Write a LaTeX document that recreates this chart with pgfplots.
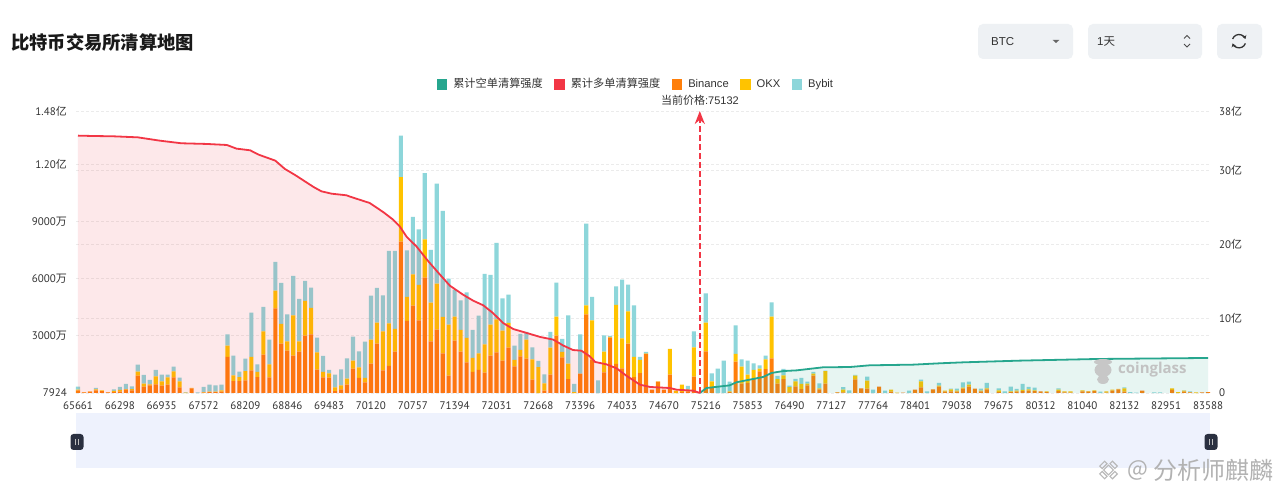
\documentclass[border=0pt]{standalone}
\usepackage{fontspec}
\usepackage{pgfplots}
\usepackage{pgfplotstable}
\pgfplotsset{compat=1.18}
\usetikzlibrary{arrows.meta}
\setmainfont{Liberation Sans}
\newfontfamily\cjk{Noto Sans CJK SC}
\newfontfamily\tickf{PT Sans}
\newfontfamily\cgf{Open Sans}
\definecolor{cBin}{HTML}{FF7F0A}
\definecolor{cOkx}{HTML}{FFC300}
\definecolor{cByb}{HTML}{8DD6DA}
\definecolor{cRed}{HTML}{F23645}
\definecolor{cGrn}{HTML}{26A68E}
\definecolor{cGrid}{HTML}{EBEBEB}
\definecolor{cBox}{HTML}{EEF1F4}
\definecolor{cSlide}{HTML}{EEF2FD}
\definecolor{cHandle}{HTML}{2A3040}
\definecolor{cTxt}{HTML}{333333}
% stacked bars, values in units of 10^4 (wan)
\pgfplotstableread{
i B O Y
0 140 35 158
1 35 18 0
2 70 18 0
3 140 53 70
4 105 35 0
5 35 18 0
6 53 53 88
7 70 88 158
8 175 35 263
9 140 70 140
10 910 210 368
11 333 158 455
12 403 53 228
13 455 420 333
14 385 228 350
15 438 385 140
16 823 315 245
17 298 315 193
18 0 18 35
19 245 18 0
20 0 0 35
21 18 35 263
22 53 18 368
23 53 18 333
24 70 70 298
25 1890 595 595
26 630 298 1033
27 630 210 280
28 665 490 648
29 1190 700 2328
30 840 263 403
31 2013 1225 1278
32 823 683 1295
33 4445 928 1505
34 2590 1033 2153
35 2223 490 1418
36 1960 2118 2065
37 2170 543 2223
38 3010 1820 1050
39 3080 1383 1068
40 1225 910 770
41 823 280 840
42 805 228 175
43 105 193 665
44 193 210 840
45 438 315 1068
46 1278 420 1260
47 788 560 840
48 560 228 1908
49 1540 1260 2310
50 2590 1103 1820
51 1190 2048 1890
52 1418 2240 3798
53 2170 1190 4095
54 7945 3378 2188
55 3780 1260 2450
56 4585 1645 3010
57 3815 1855 2923
58 6055 2013 3465
59 2713 2030 2765
60 3325 2415 5250
61 2083 1908 5565
62 910 2678 2415
63 2748 1260 1418
64 2170 1138 1558
65 1610 1278 2398
66 1103 735 1470
67 1208 875 1978
68 1068 1488 3693
69 1960 1628 2608
70 2135 1733 4008
71 1698 1575 1698
72 2380 1295 1488
73 1400 333 753
74 1925 333 840
75 1803 998 403
76 700 1068 630
77 0 1365 315
78 123 385 473
79 963 1418 823
80 3010 998 1785
81 1873 280 683
82 735 805 2538
83 0 53 420
84 1015 0 2065
85 4130 473 4288
86 1750 2065 1225
87 0 0 665
88 1085 1085 858
89 2905 35 53
90 1523 3098 980
91 1295 1575 3080
92 2590 1698 1400
93 840 1050 2713
94 1050 683 158
95 2048 18 88
96 175 0 0
97 595 18 0
98 175 0 0
99 963 1348 0
100 0 123 0
101 53 385 0
102 88 88 193
103 858 1540 840
104 0 0 0
105 2188 1505 1540
106 263 350 420
107 0 0 1278
108 0 0 1698
109 53 35 508
110 1645 403 1505
111 490 893 385
112 525 438 735
113 735 473 350
114 1138 140 175
115 1260 508 193
116 1820 2188 753
117 490 245 158
118 735 193 333
119 35 280 70
120 350 263 123
121 210 263 315
122 403 88 105
123 910 105 88
124 193 53 263
125 490 665 18
126 0 0 0
127 35 18 0
128 35 140 140
129 0 0 140
130 718 193 35
131 245 0 0
132 228 420 210
133 0 0 175
134 333 0 0
135 0 0 123
136 70 105 0
137 0 18 0
138 18 0 0
139 0 0 123
140 175 0 0
141 298 315 88
142 0 0 88
143 193 0 0
144 333 53 140
145 70 53 0
146 88 105 35
147 70 53 105
148 228 53 280
149 333 105 158
150 228 0 0
151 88 35 105
152 193 53 280
153 0 0 0
154 53 88 105
155 0 0 88
156 53 35 245
157 70 53 88
158 105 53 315
159 123 70 123
160 105 35 140
161 88 0 0
162 53 35 0
163 0 0 0
164 105 70 70
165 35 53 0
166 18 70 0
167 0 0 0
168 88 53 0
169 70 35 0
170 105 35 0
171 0 0 70
172 18 70 0
173 123 53 0
174 193 18 0
175 70 175 53
176 0 0 53
177 0 0 18
178 123 0 0
179 0 0 0
180 0 0 35
181 0 0 35
182 0 0 0
183 158 88 0
184 0 53 0
185 70 53 18
186 35 18 35
187 0 35 0
188 35 0 0
189 53 0 0
}\bars
% cumulative long liquidation, right axis (yi)
\pgfplotstableread{
i v
0 34.68
2.6 34.63
5.9 34.59
10 34.45
13.7 34.0
17.3 33.65
21.5 33.56
24.9 33.42
26.5 32.93
28.8 32.70
30.2 32.12
33 31.31
34.6 30.19
36.3 29.38
39.4 27.76
40.7 27.18
42.4 26.86
44.9 26.64
45.5 26.46
48.8 25.60
51.1 24.35
52.7 23.36
53.8 22.46
55 21.02
56.6 19.76
58.6 17.74
60.3 16.17
62.2 14.46
64.4 13.25
66.1 12.44
67.8 11.81
69.4 10.78
71.1 9.43
72.8 8.62
74.5 8.22
77.3 7.55
79.5 7.19
81.2 6.38
82.8 5.79
84.2 5.70
85.6 4.94
86.5 4.18
88.4 3.86
90.1 3.32
91.7 2.34
94 1.12
95.7 0.81
99 0.67
100.1 0.45
102.9 0.31
104 0
}\longs
% cumulative short liquidation, right axis (yi)
\pgfplotstableread{
i v
104 0
105.1 0.67
109 1.03
110.1 1.44
114.6 2.16
116 2.70
118 2.96
120.2 3.05
124.6 3.46
129.1 3.50
132.4 3.73
139.7 3.82
144.1 4.00
148 4.13
157.5 4.36
170.3 4.58
189 4.72
}\shorts
\begin{document}
\begin{tikzpicture}[x=1pt,y=1pt]
\useasboundingbox (0,0) rectangle (1280,497);
\fill[white] (0,0) rectangle (1280,497);
% title
\node[anchor=west,inner sep=0pt,text=black!90] at (11,454) {\fontsize{18.3}{20}\cjk\bfseries 比特币交易所清算地图};
% controls
\fill[cBox,rounded corners=5pt] (978,438) rectangle (1073,473);
\node[anchor=west,inner sep=0pt,text=cTxt] at (991,455.5) {\fontsize{11.5}{13}\selectfont BTC};
\fill[black!60] (1052.7,457) -- (1059.3,457) -- (1056,454) -- cycle;
\fill[cBox,rounded corners=5pt] (1088,438) rectangle (1202,473);
\node[anchor=west,inner sep=0pt,text=cTxt] at (1097,455.5) {\fontsize{11.5}{13}\selectfont 1{\cjk 天}};
\draw[black!70,line width=.9pt] (1184,458.5) -- (1187,461.5) -- (1190,458.5);
\draw[black!70,line width=.9pt] (1184,453) -- (1187,450) -- (1190,453);
\fill[cBox,rounded corners=5pt] (1217,438) rectangle (1262,473);
\draw[black!80,line width=1.3pt,-{Stealth[length=3.5pt,width=4.5pt]}] (1232.6,458) arc (160:20:6.8);
\draw[black!80,line width=1.3pt,-{Stealth[length=3.5pt,width=4.5pt]}] (1245.4,453.6) arc (340:200:6.8);
% dataZoom
\fill[cSlide] (76,29) rectangle (1210,84);
\foreach \hx in {77,1211}{
  \fill[cHandle,rounded corners=3pt] (\hx-6.5,47) rectangle (\hx+6.5,63);
  \draw[white!75!black,line width=.7pt] (\hx-1.5,52) -- (\hx-1.5,58) (\hx+1.5,52) -- (\hx+1.5,58);
}
% left axis and bars
\begin{axis}[
  at={(76pt,104pt)},anchor=south west,
  width=1134pt,height=282pt,scale only axis,
  ybar stacked,bar width=4.1pt,
  xmin=-0.334,xmax=189.334,ymin=0.7924,ymax=14800,
  axis line style={draw=none},major tick length=0pt,
  scaled y ticks=false,
  xtick={0,7,...,189},
  xticklabels={65661,66298,66935,67572,68209,68846,69483,70120,70757,71394,72031,72668,73396,74033,74670,75216,75853,76490,77127,77764,78401,79038,79675,80312,81040,82132,82951,83588},
  ytick={0.7924,3000,6000,9000,12000,14800},
  yticklabels={7924,3000{\cjk 万},6000{\cjk 万},9000{\cjk 万},1.20{\cjk 亿},1.48{\cjk 亿}},
  extra y ticks={3894.7,7789.5,11684.2},
  extra y tick labels={},
  extra y tick style={grid=major},
  tick label style={font=\fontsize{11}{12}\tickf,text=cTxt,inner sep=0pt},
  xticklabel style={yshift=-13pt,anchor=center},
  yticklabel style={xshift=-9pt,anchor=east},
  ymajorgrids,grid style={cGrid,dash pattern=on 3pt off 2pt,line width=.7pt},
  clip=false,
]
\addplot[fill=cBin,draw=none] table[x=i,y=B]{\bars};
\addplot[fill=cOkx,draw=none] table[x=i,y=O]{\bars};
\addplot[fill=cByb,draw=none] table[x=i,y=Y]{\bars};
\end{axis}
% right axis, cumulative lines and price marker
\begin{axis}[
  at={(76pt,104pt)},anchor=south west,
  width=1134pt,height=282pt,scale only axis,
  xmin=-0.334,xmax=189.334,ymin=0,ymax=38,
  axis x line=none,axis y line*=right,
  axis line style={draw=none},major tick length=0pt,
  ytick={0,10,20,30,38},
  yticklabels={0,10{\cjk 亿},20{\cjk 亿},30{\cjk 亿},38{\cjk 亿}},
  tick label style={font=\fontsize{11}{12}\tickf,text=cTxt,inner sep=0pt},
  yticklabel style={xshift=9pt,anchor=west},
  clip=false,
  legend columns=-1,
  legend cell align=left,
  legend style={at={(0.4938,1.0957)},anchor=center,draw=none,fill=none,inner sep=0pt,
    font=\fontsize{11.2}{13}\selectfont,text=cTxt,
    /tikz/every odd column/.append style={column sep=4.5pt},
    /tikz/every even column/.append style={column sep=9.5pt}},
  legend image code/.code={\fill[#1] (0pt,-4.75pt) rectangle (9.5pt,4.75pt);},
]
\addlegendimage{color=cGrn}\addlegendentry{\cjk 累计空单清算强度}
\addlegendimage{color=cRed}\addlegendentry{\cjk 累计多单清算强度}
\addlegendimage{color=cBin}\addlegendentry{Binance}
\addlegendimage{color=cOkx}\addlegendentry{OKX}
\addlegendimage{color=cByb}\addlegendentry{Bybit}
\addplot[forget plot,draw=none,fill=cRed,fill opacity=.11] table[x=i,y=v]{\longs} \closedcycle;
\addplot[forget plot,draw=none,fill=cGrn,fill opacity=.11] table[x=i,y=v]{\shorts} \closedcycle;
\addplot[forget plot,cRed,line width=1.8pt] table[x=i,y=v]{\longs};
\addplot[forget plot,cGrn,line width=1.8pt] table[x=i,y=v]{\shorts};
\addplot[forget plot,color=cRed,line width=1.8pt,dash pattern=on 6pt off 3pt,-{Stealth[length=13pt,width=10pt]}] coordinates {(104,0) (104,38)};
\end{axis}
\node[inner sep=0pt,text=cTxt] at (700,397) {\fontsize{11}{13}\selectfont {\cjk 当前价格}:75132};
% watermarks
\fill[black!22] (1103,127) ellipse (8.5 and 7);
\fill[black!22] (1103,117.5) ellipse (6 and 4.5);
\fill[black!22] (1103,135) ellipse (9 and 3);
\node[anchor=west,inner sep=0pt,text=black!24] at (1118,127) {\fontsize{15}{17}\cgf\bfseries coinglass};
\begin{scope}[shift={(1108.5,27)},rotate=45,black!28,line width=1.1pt]
  \draw (-3.5,-3.5) rectangle (3.5,3.5);
  \draw (5.5,-3.5) rectangle (9,3.5);
  \draw (-9,-3.5) rectangle (-5.5,3.5);
  \draw (-3.5,5.5) rectangle (3.5,9);
  \draw (-3.5,-9) rectangle (3.5,-5.5);
\end{scope}
\node[anchor=west,inner sep=0pt,text=black!30] at (1127,27) {\fontsize{22}{24}\cjk @};
\node[anchor=west,inner sep=0pt,text=black!30] at (1153,27) {\fontsize{24}{26}\cjk 分析师麒麟};
\end{tikzpicture}
\end{document}
